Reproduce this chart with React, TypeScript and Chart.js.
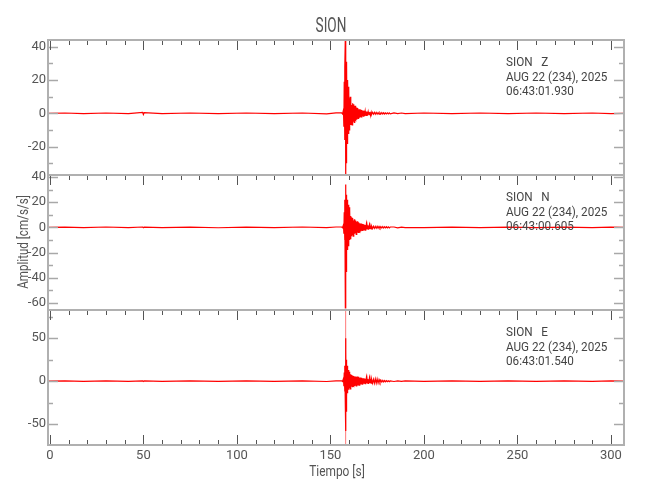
import React, { useEffect, useRef } from "react";
import { Chart, registerables } from "chart.js";

Chart.register(...registerables);

// ---------- text ----------
const STATION = "SION";
const DATE_LABEL = "AUG 22 (234), 2025";
const COMPONENTS = ["Z", "N", "E"];
const START_TIMES = ["06:43:01.930", "06:43:00.605", "06:43:01.540"];
const X_TITLE = "Tiempo [s]";
const Y_TITLE = "Amplitud [cm/s/s]";

// ---------- axes ----------
const X_RANGE = [-1, 307];
const X_TICKS = [0, 50, 100, 150, 200, 250, 300];
const X_MINOR = [10, 20, 30, 40, 60, 70, 80, 90, 110, 120, 130, 140, 160, 170, 180, 190, 210, 220, 230, 240, 260, 270, 280, 290];

const Z_RANGE = [-37, 44];
const Z_TICKS = [40, 20, 0, -20];
const Z_MINOR = [30, 10, -10, -30];

const N_RANGE = [-65.6, 41.6];
const N_TICKS = [40, 20, 0, -20, -40, -60];
const N_MINOR = [30, 10, -10, -30, -50];

const E_RANGE = [-74.2, 82.7];
const E_TICKS = [50, 0, -50];
const E_MINOR = [75, 25, -25];

// ---------- data (seconds / cm/s/s) ----------
const TIME = [
  // quiet before the event
  -1, 8, 18, 30, 42, 49.6, 50.0, 50.4, 60, 75, 90, 105, 120, 135, 148, 153,
  // onset and strong motion
  156.0, 156.5, 157.0, 157.2, 157.4, 157.6, 157.8,
  158.0, 158.1, 158.2, 158.3, 158.4, 158.5, 158.6, 158.7, 158.8, 158.9, 159.0,
  159.2, 159.4, 159.6, 159.8, 160.0, 160.2, 160.4, 160.6, 160.8, 161.0,
  // coda
  161.2, 161.4, 161.6, 161.8, 162.0, 162.2, 162.4, 162.6, 162.8, 163.0,
  163.2, 163.4, 163.6, 163.8, 164.0, 164.2, 164.4, 164.6, 164.8, 165.0,
  165.2, 165.4, 165.6, 165.8, 166.0, 166.2, 166.4, 166.6, 166.8, 167.0,
  167.2, 167.4, 167.6, 167.8, 168.0, 168.2, 168.4, 168.6, 168.8, 169.0,
  169.2, 169.4, 169.6, 169.8, 170.0, 170.2, 170.4, 170.6, 170.8, 171.0,
  171.2, 171.4, 171.6, 171.8, 172.0,
  172.5, 173.0, 173.5, 174.0, 174.5, 175.0, 175.5, 176.0, 176.5, 177.0,
  177.5, 178.0, 178.5, 179.0, 179.5, 180.0, 180.5, 181.0, 181.5, 182.0,
  184.0, 186.0, 188.0, 190.0,
  // quiet after
  200, 215, 230, 245, 260, 275, 290, 300, 307,
];

const Z_VALUES = [
  0, 0.2, -0.2, 0.2, -0.2, 0.6, -0.7, 0.4, -0.2, 0.2, -0.2, 0.2, -0.2, 0.2, -0.3, 0.3,
  0.3, -0.4, 2, -8, 19, -16, 28,
  46, -25, 36, -40, 30, -30, 24, -22, 31, -18, 20,
  -14, 20, -12, 16, -10, 9, -8, 10, -7, 7,
  -6.5, 5, -7, 6, -4.5, 5.5, -5, 4, -5.5, 4.5,
  -3.5, 4.5, -4, 3, -3.8, 3.5, -2.8, 3.2, -3, 2.5,
  -3, 2.2, -2.6, 2.4, -2, 2.3, -1.8, 2, -2.1, 1.7,
  -1.9, 1.5, -1.7, 1.6, -1.4, 1.5, -1.3, 1.2, -1.4, 1.1,
  -1.2, 1.0, -1.1, 0.9, -1.0, 0.9, -0.8, 0.9, -0.8, 0.7,
  -0.8, 0.7, -0.7, 0.6, -0.7,
  0.6, -0.5, 0.6, -0.5, 0.5, -0.5, 0.4, -0.5, 0.4, -0.4,
  0.4, -0.4, 0.3, -0.4, 0.3, -0.3, 0.3, -0.3, 0.3, -0.3,
  0.3, -0.2, 0.2, -0.2,
  0.2, -0.2, 0.2, -0.2, 0.2, -0.2, 0.2, -0.2, 0,
];

const N_VALUES = [
  0, 0.2, -0.2, 0.3, -0.2, 0.3, -0.3, 0.2, -0.2, 0.2, -0.3, 0.2, -0.2, 0.3, -0.2, 0.3,
  0.3, -0.3, 2, -5, 12, -10, 22,
  -64, 34, -42, 30, -35, 26, -20, 24, -16, 22, -14,
  20, -18, 18, -15, 16, -10, 14, -9, 9, -8,
  8, -7, 7.5, -6, 6.5, -7, 5.5, -6, 6.5, -5,
  5.5, -4.5, 5, -5.5, 4.5, -4, 4.8, -4.2, 3.8, -4.5,
  4, -3.5, 3.2, -3.8, 3, -3.2, 2.8, -2.6, 3, -2.4,
  2.6, -2.2, 2.4, -2.5, 2, -2.2, 1.9, -2.1, 1.8, -1.7,
  1.9, -1.6, 1.7, -1.5, 1.6, -1.4, 1.5, -1.3, 1.4, -1.2,
  1.3, -1.2, 1.1, -1.2, 1.0,
  -0.9, 0.9, -0.8, 0.8, -0.7, 0.8, -0.6, 0.7, -0.6, 0.6,
  -0.5, 0.6, -0.5, 0.5, -0.4, 0.5, -0.4, 0.4, -0.4, 0.3,
  0.3, -0.3, 0.2, -0.2,
  -0.2, 0.2, -0.2, 0.2, -0.2, 0.2, -0.2, 0.2, 0,
];

const E_VALUES = [
  0, 0.3, -0.3, 0.3, -0.3, 0.4, -0.4, 0.3, -0.3, 0.3, -0.3, 0.3, -0.3, 0.3, -0.4, 0.4,
  0.4, -0.4, 3, -6, 10, -12, 18,
  -30, 50, -58, 37, -35, 25, -28, 20, -18, 15, -14,
  18, -12, 13, -10, 11, -8, 9, -9, 8, -7,
  7, -6.5, 6, -7, 6.5, -5.5, 6, -6, 5, -5.5,
  5.5, -5, 4.5, -5.5, 5, -4.5, 5.5, -5, 4.5, -5,
  5, -4.5, 4, -4.5, 4.2, -3.8, 4, -3.5, 3.8, -3.4,
  3.5, -3.2, 3.3, -3, 3.1, -2.9, 3, -2.8, 2.9, -2.6,
  2.8, -2.5, 2.6, -2.7, 2.4, -2.5, 2.3, -2.4, 2.5, -2.2,
  2.4, -2.3, 2.2, -2.4, 2.3,
  -2.4, 2.2, -2.5, 2.6, -2.4, 2.5, -2.2, 1.8, -1.5, 1.2,
  -1, 0.9, -0.8, 0.7, -0.7, 0.6, -0.6, 0.5, -0.5, 0.4,
  -0.4, 0.3, -0.3, 0.3,
  -0.3, 0.3, -0.3, 0.3, -0.3, 0.3, -0.3, 0.3, 0,
];

// single clipped excursion on the E trace (drawn faint)
const E_SPIKE_TIME = [158.12, 158.14, 158.16, 158.18];
const E_SPIKE_VALUES = [0, 95, -85, 0];

const FONT = 'Roboto, "Liberation Sans", sans-serif';
const TEXT_COLOR = "#555555";

function toPoints(ts: number[], vs: number[]) {
  const n = Math.min(ts.length, vs.length);
  const out: { x: number; y: number }[] = [];
  for (let i = 0; i < n; i++) out.push({ x: ts[i], y: vs[i] });
  return out;
}

const PANELS: [string, number[], number[]][] = [
  ["yZ", Z_TICKS, Z_MINOR],
  ["yN", N_TICKS, N_MINOR],
  ["yE", E_TICKS, E_MINOR],
];

function narrowText(ctx: any, text: string, x: number, y: number, sx: number, align: string) {
  ctx.save();
  ctx.translate(x, y);
  ctx.scale(sx, 1);
  ctx.textAlign = align;
  ctx.fillText(text, 0, 0);
  ctx.restore();
}

const framePlugin = {
  id: "seisFrames",
  afterDatasetsDraw(chart: any) {
    const { ctx, chartArea } = chart;
    const xs = chart.scales.x;
    const left = chartArea.left;
    const right = chartArea.right;
    const line = (x1: number, y1: number, x2: number, y2: number) => {
      ctx.beginPath();
      ctx.moveTo(x1, y1);
      ctx.lineTo(x2, y2);
      ctx.stroke();
    };
    ctx.save();
    PANELS.forEach(([id, major, minor], idx) => {
      const s = chart.scales[id];
      const top = s.top;
      const bottom = s.bottom;
      ctx.strokeStyle = "#a8a8a8";
      ctx.lineWidth = 1.5;
      major.forEach((v) => {
        const py = Math.round(s.getPixelForValue(v)) + 0.5;
        line(left, py, left + 10, py);
        line(right - 10, py, right, py);
      });
      minor.forEach((v) => {
        const py = Math.round(s.getPixelForValue(v)) + 0.5;
        if (py < top || py > bottom) return;
        line(left, py, left + 5, py);
        line(right - 5, py, right, py);
      });
      ctx.strokeStyle = "#555";
      ctx.lineWidth = 1;
      X_TICKS.forEach((v) => {
        const px = Math.round(xs.getPixelForValue(v)) + 0.5;
        line(px, top, px, top + 10);
        if (idx === PANELS.length - 1) line(px, bottom, px, bottom - 10);
      });
      X_MINOR.forEach((v) => {
        const px = Math.round(xs.getPixelForValue(v)) + 0.5;
        line(px, top, px, top + 5);
        if (idx === PANELS.length - 1) line(px, bottom, px, bottom - 5);
      });
      ctx.strokeStyle = "#b0b0b0";
      ctx.lineWidth = 2;
      ctx.strokeRect(left, top, right - left, bottom - top);

      ctx.fillStyle = "#444";
      ctx.font = "13px " + FONT;
      ctx.textBaseline = "alphabetic";
      const tx = right - 118;
      narrowText(ctx, STATION + "   " + COMPONENTS[idx], tx, top + 26, 0.9, "left");
      narrowText(ctx, DATE_LABEL, tx, top + 40.5, 0.9, "left");
      narrowText(ctx, START_TIMES[idx], tx, top + 55, 0.9, "left");
    });

    ctx.fillStyle = TEXT_COLOR;
    ctx.textBaseline = "alphabetic";
    ctx.font = "20px " + FONT;
    narrowText(ctx, STATION, (left + right) / 2 - 5, 32, 0.68, "center");
    ctx.font = "14px " + FONT;
    narrowText(ctx, X_TITLE, (left + right) / 2 + 1, 476, 0.85, "center");
    ctx.save();
    ctx.translate(28, 242);
    ctx.rotate(-Math.PI / 2);
    narrowText(ctx, Y_TITLE, 0, 0, 0.83, "center");
    ctx.restore();
    ctx.restore();
  },
};

function yScale(range: number[], ticks: number[], weight: number) {
  return {
    type: "linear" as const,
    position: "left" as const,
    stack: "channels",
    stackWeight: 1,
    weight,
    min: range[0],
    max: range[1],
    grid: { display: false, drawTicks: false },
    border: { display: false },
    ticks: {
      padding: 2,
      color: TEXT_COLOR,
      font: { family: FONT, size: 13 },
      autoSkip: false,
    },
    afterBuildTicks: (s: any) => {
      s.ticks = ticks.map((v) => ({ value: v }));
    },
    afterFit: (s: any) => {
      s.width = 48;
    },
  };
}

export default function App() {
  const ref = useRef<HTMLCanvasElement | null>(null);
  useEffect(() => {
    document.body.style.margin = "0";
    if (!ref.current) return;
    const traceStyle = {
      borderColor: "#ff0000",
      borderWidth: 1.2,
      pointRadius: 0,
      tension: 0,
      fill: false,
    };
    const chart = new Chart(ref.current, {
      type: "line",
      data: {
        datasets: [
          { ...traceStyle, label: "Z", data: toPoints(TIME, Z_VALUES), yAxisID: "yZ", order: 1 },
          { ...traceStyle, label: "N", data: toPoints(TIME, N_VALUES), yAxisID: "yN", order: 1 },
          { ...traceStyle, label: "E", data: toPoints(TIME, E_VALUES), yAxisID: "yE", order: 1 },
          {
            ...traceStyle,
            label: "E spike",
            borderWidth: 1,
            borderColor: "rgba(255,0,0,0.3)",
            data: toPoints(E_SPIKE_TIME, E_SPIKE_VALUES),
            yAxisID: "yE",
            order: 5,
          },
        ],
      },
      options: {
        animation: false,
        responsive: false,
        devicePixelRatio: 1,
        events: [],
        layout: { padding: { top: 40, right: 26, bottom: 25, left: 0 } },
        plugins: { legend: { display: false }, tooltip: { enabled: false }, title: { display: false } },
        scales: {
          x: {
            type: "linear",
            position: "bottom",
            min: X_RANGE[0],
            max: X_RANGE[1],
            grid: { display: false, drawTicks: false },
            border: { display: false },
            ticks: {
              padding: 3,
              color: TEXT_COLOR,
              font: { family: FONT, size: 13 },
              autoSkip: false,
              maxRotation: 0,
            },
            afterBuildTicks: (s: any) => {
              s.ticks = X_TICKS.map((v) => ({ value: v }));
            },
            afterFit: (s: any) => {
              s.height = 30;
            },
          },
          yZ: yScale(Z_RANGE, Z_TICKS, 3),
          yN: yScale(N_RANGE, N_TICKS, 2),
          yE: yScale(E_RANGE, E_TICKS, 1),
        },
      } as any,
      plugins: [framePlugin],
    });
    return () => chart.destroy();
  }, []);
  return (
    <div style={{ width: 650, height: 500, background: "#fff" }}>
      <canvas ref={ref} width={650} height={500} style={{ display: "block" }} />
    </div>
  );
}
